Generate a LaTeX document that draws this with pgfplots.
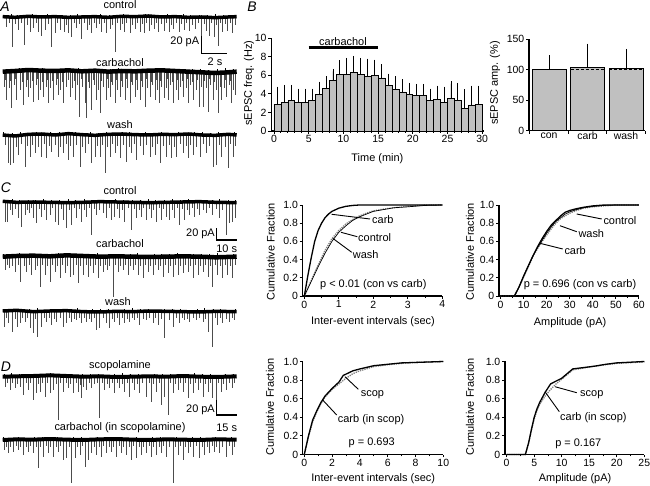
\documentclass[border=0pt]{standalone}
\usepackage{fontspec}
\setmainfont{Liberation Sans}
\usepackage{pgfplots}
\usepackage{pgfplotstable}
\pgfplotsset{compat=1.18}
\definecolor{barg}{RGB}{192,192,192}

\pgfplotstableread{
x y e
0.5 2.9 1.6
1.5 3.1 1.6
2.5 3.3 1.4
3.5 3.1 1.2
4.5 3.1 1.2
5.5 3.3 1.0
6.5 3.9 1.15
7.5 4.6 1.0
8.5 5.4 1.0
9.5 6.1 1.25
10.5 6.1 1.5
11.5 6.3 1.5
12.5 6.1 1.5
13.5 5.9 1.6
14.5 6.0 1.4
15.5 5.7 1.2
16.5 4.9 1.0
17.5 4.5 1.1
18.5 4.2 1.1
19.5 3.9 1.0
20.5 3.8 1.0
21.5 3.8 1.0
22.5 3.3 1.0
23.5 3.4 1.2
24.5 3.1 1.4
25.5 3.5 1.6
26.5 3.3 1.6
27.5 2.4 1.8
28.5 2.8 1.8
29.5 2.9 1.7
}\freqdata

\pgfplotstableread{
x y e
0 100 18.5
1 103 34.5
2 102 27
}\ampdata

\pgfplotsset{
 base/.style={scale only axis, anchor=south west, clip=false, axis lines=left,
   axis line style={-, line width=1.1bp}, tick align=outside,
   major tick length=3bp, minor tick length=2bp,
   tick style={line width=0.9bp, black},
   tick label style={font=\fontsize{10.5}{12}\selectfont, inner sep=1.5bp},
   label style={font=\fontsize{11}{12}\selectfont},
   /pgf/number format/assume math mode=true,
   xlabel style={anchor=center}, ylabel style={anchor=center}},
 trace/.style={scale only axis, hide axis, anchor=south west, clip=false,
   width=234bp, height=56.667bp, xmin=8, xmax=710, ymin=-150, ymax=20},
 spk/.style={ycomb, black!70, line width=0.55bp, mark=none},
 up/.style={ycomb, black, line width=0.6bp, mark=none},
 band/.style={black, line width=#1, line join=round, mark=none},
 carbl/.style={black, line width=1.3bp, mark=none},
 conl/.style={gray, densely dotted, line width=1.3bp, mark=none},
 washl/.style={black, line width=0.7bp, mark=none},
}

\begin{document}
\begin{tikzpicture}
\useasboundingbox (0,0) rectangle (650bp,486bp);

% ---------------- Panel A traces ----------------
\begin{axis}[trace, at={(2.7bp,418.67bp)}]
\addplot[spk] coordinates {(20,-28)(38,-88)(55,-38)(72,-83)(90,-43)(100,-33)(115,-43)(125,-56)(135,-38)(155,-88)(165,-48)(180,-38)(192,-43)(205,-48)(215,-58)(228,-33)(245,-66)(262,-38)(275,-46)(290,-33)(305,-43)(318,-48)(330,-36)(345,-103)(360,-38)(372,-43)(390,-48)(405,-36)(420,-43)(432,-48)(448,-40)(462,-36)(475,-43)(492,-40)(508,-43)(520,-36)(538,-43)(552,-38)(568,-40)(585,-36)(605,-60)(618,-40)(628,-56)(642,-58)(655,-86)(668,-43)(682,-40)(698,-48)};
\addplot[spk] coordinates {(28,-18)(46,-20)(63,-16)(82,-22)(108,-18)(145,-20)(172,-16)(198,-22)(222,-18)(237,-20)(253,-16)(268,-22)(282,-18)(297,-20)(312,-16)(338,-22)(352,-18)(366,-20)(380,-16)(398,-22)(412,-18)(426,-20)(440,-16)(455,-22)(468,-18)(483,-20)(500,-16)(514,-22)(530,-18)(545,-20)(560,-16)(576,-22)(594,-18)(612,-20)(635,-16)(648,-22)(662,-18)(675,-20)(690,-16)(705,-22)};
\addplot[up] coordinates {(14,7)(33,9)(51,6)(77,8)(96,10)(121,7)(142,9)(160,6)(187,8)(211,7)(233,10)(258,6)(279,8)(301,9)(327,7)(349,6)(371,10)(393,8)(417,7)(437,11)(459,6)(481,8)(503,10)(527,7)(549,9)(571,6)(597,8)(621,7)(645,9)(671,6)(694,8)};
\addplot[band=3.5bp] coordinates {(8,2)(45,0)(85,3)(125,1)(165,2)(205,0)(245,1)(285,2)(325,0)(365,3)(405,2)(445,4)(485,1)(525,2)(565,0)(605,1)(645,-1)(685,1)(710,2)};
\end{axis}

\begin{axis}[trace, at={(2.7bp,364.33bp)}]
\addplot[spk] coordinates {(20,-85)(35,-110)(50,-85)(70,-100)(85,-75)(100,-90)(115,-85)(130,-75)(145,-95)(160,-85)(175,-70)(190,-95)(210,-75)(225,-85)(238,-135)(255,-95)(260,-140)(275,-115)(290,-85)(300,-125)(318,-85)(330,-75)(345,-95)(360,-75)(375,-85)(390,-95)(405,-75)(420,-85)(435,-105)(450,-75)(465,-85)(478,-95)(492,-80)(505,-85)(520,-95)(535,-85)(550,-75)(565,-95)(580,-85)(598,-105)(610,-105)(625,-120)(640,-85)(655,-125)(665,-85)(680,-75)(695,-95)(705,-70)};
\addplot[spk] coordinates {(12,-45)(27,-50)(42,-40)(60,-55)(78,-45)(92,-50)(108,-40)(122,-55)(138,-45)(152,-50)(168,-40)(182,-55)(200,-45)(218,-50)(232,-40)(248,-45)(268,-50)(282,-40)(295,-55)(310,-45)(324,-50)(338,-40)(352,-55)(368,-45)(382,-50)(398,-40)(412,-55)(428,-45)(442,-50)(458,-40)(472,-55)(485,-45)(498,-50)(512,-40)(528,-55)(542,-45)(558,-50)(572,-40)(588,-55)(604,-45)(618,-50)(632,-40)(648,-55)(660,-45)(672,-50)(688,-40)(700,-55)};
\addplot[spk] coordinates {(16,-25)(31,-28)(46,-22)(66,-30)(82,-24)(96,-27)(112,-22)(127,-30)(142,-25)(156,-28)(171,-22)(186,-30)(205,-25)(222,-28)(243,-22)(264,-30)(279,-24)(305,-27)(321,-22)(334,-30)(348,-25)(364,-28)(379,-22)(394,-30)(409,-25)(424,-28)(439,-22)(454,-30)(469,-25)(482,-28)(502,-22)(516,-30)(532,-25)(546,-28)(562,-22)(576,-30)(592,-25)(614,-28)(628,-22)(644,-30)(676,-25)(692,-28)};
\addplot[up] coordinates {(18,9)(40,7)(58,10)(83,6)(104,8)(126,11)(148,7)(166,9)(192,6)(214,8)(236,10)(262,7)(284,9)(306,6)(331,8)(354,10)(376,7)(399,9)(421,6)(443,8)(466,10)(488,7)(511,9)(533,6)(556,8)(578,7)(601,9)(626,6)(651,8)(676,10)(699,7)};
\addplot[band=4.5bp] coordinates {(8,0)(45,2)(85,5)(125,3)(165,2)(205,4)(245,1)(285,3)(325,0)(365,2)(405,1)(445,3)(485,4)(525,2)(565,0)(605,-2)(645,-4)(685,-2)(710,0)};
\end{axis}

\begin{axis}[trace, at={(2.7bp,301bp)}]
\addplot[spk] coordinates {(25,-85)(32,-90)(40,-85)(55,-60)(75,-95)(90,-65)(105,-55)(125,-65)(140,-70)(155,-50)(175,-65)(190,-55)(205,-75)(220,-65)(240,-95)(255,-55)(275,-85)(285,-65)(300,-65)(315,-115)(330,-65)(345,-55)(360,-70)(380,-80)(395,-55)(410,-75)(430,-60)(450,-65)(465,-60)(480,-85)(500,-65)(515,-70)(530,-65)(550,-55)(565,-70)(580,-60)(600,-65)(618,-55)(640,-95)(650,-90)(665,-65)(685,-100)(700,-65)};
\addplot[spk] coordinates {(15,-30)(48,-35)(65,-28)(82,-32)(98,-30)(115,-35)(132,-28)(148,-32)(165,-30)(182,-35)(198,-28)(212,-32)(230,-30)(248,-35)(265,-28)(292,-32)(308,-30)(322,-35)(338,-28)(352,-32)(370,-30)(388,-35)(402,-28)(420,-32)(440,-30)(458,-35)(472,-28)(490,-32)(508,-30)(522,-35)(540,-28)(558,-32)(572,-30)(590,-35)(610,-28)(628,-32)(658,-30)(675,-35)(692,-28)(706,-32)};
\addplot[up] coordinates {(11,8)(37,6)(61,9)(86,7)(109,10)(133,6)(151,8)(178,9)(201,7)(226,10)(251,6)(271,8)(296,7)(318,9)(341,6)(366,8)(387,10)(413,7)(436,9)(461,6)(484,8)(507,7)(534,9)(556,6)(583,8)(606,10)(631,7)(656,9)(681,6)(703,8)};
\addplot[band=3.5bp] coordinates {(8,0)(45,-3)(85,2)(125,3)(165,0)(205,4)(245,1)(285,-1)(325,2)(365,3)(405,1)(445,0)(485,2)(525,1)(565,3)(605,0)(645,-1)(685,2)(710,0)};
\end{axis}

% ---------------- Panel C traces ----------------
\begin{axis}[trace, xmin=8, xmax=712, at={(2.7bp,233.67bp)}]
\addplot[spk] coordinates {(15,-58)(22,-58)(38,-38)(55,-48)(65,-73)(75,-38)(88,-33)(100,-48)(110,-63)(125,-43)(140,-53)(150,-38)(165,-58)(175,-68)(190,-53)(200,-78)(215,-68)(230,-48)(245,-58)(260,-43)(275,-98)(290,-38)(310,-33)(320,-48)(335,-53)(345,-43)(360,-48)(375,-58)(395,-83)(410,-48)(425,-43)(440,-53)(455,-48)(470,-58)(485,-53)(500,-43)(510,-53)(525,-48)(540,-68)(555,-53)(570,-38)(585,-43)(600,-38)(620,-33)(640,-38)(660,-48)(680,-98)(690,-63)(700,-58)(708,-48)};
\addplot[spk] coordinates {(30,-22)(47,-20)(82,-22)(94,-18)(118,-20)(132,-22)(158,-18)(183,-20)(208,-22)(222,-18)(238,-20)(252,-22)(268,-18)(282,-20)(300,-22)(328,-18)(352,-20)(368,-22)(385,-18)(403,-20)(418,-22)(432,-18)(448,-20)(462,-22)(478,-18)(492,-20)(518,-22)(532,-18)(548,-20)(562,-22)(578,-18)(592,-20)(610,-22)(630,-18)(650,-20)(670,-22)};
\addplot[up] coordinates {(13,7)(36,9)(59,6)(84,8)(106,7)(131,9)(154,6)(179,8)(204,10)(227,7)(253,9)(276,6)(298,8)(324,7)(347,9)(372,6)(397,8)(421,7)(446,9)(468,6)(494,8)(517,10)(541,7)(566,9)(589,6)(613,8)(638,7)(661,9)(686,6)(707,8)};
\addplot[band=3.5bp] coordinates {(8,3)(50,0)(100,1)(150,0)(200,-1)(250,0)(300,2)(350,1)(400,0)(450,-1)(500,0)(550,1)(600,2)(650,0)(712,-1)};
\end{axis}

\begin{axis}[trace, xmin=8, xmax=712, at={(2.7bp,179.33bp)}]
\addplot[spk] coordinates {(15,-40)(28,-35)(45,-45)(62,-75)(80,-45)(95,-55)(105,-40)(120,-90)(135,-55)(150,-75)(165,-45)(180,-65)(195,-50)(210,-60)(220,-55)(235,-80)(250,-55)(265,-60)(280,-50)(295,-65)(310,-45)(322,-40)(340,-120)(355,-45)(370,-40)(385,-55)(400,-40)(415,-55)(430,-65)(445,-45)(460,-55)(475,-40)(490,-60)(505,-50)(520,-60)(535,-55)(550,-50)(565,-45)(580,-65)(595,-55)(610,-45)(625,-60)(640,-90)(655,-55)(670,-65)(685,-55)(700,-65)};
\addplot[spk] coordinates {(22,-25)(38,-28)(55,-25)(72,-28)(88,-25)(112,-28)(128,-25)(142,-28)(158,-25)(172,-28)(188,-25)(202,-28)(228,-25)(242,-28)(258,-25)(272,-28)(288,-25)(302,-28)(316,-25)(330,-28)(348,-25)(362,-28)(378,-25)(392,-28)(408,-25)(422,-28)(438,-25)(452,-28)(468,-25)(482,-28)(498,-25)(512,-28)(528,-25)(542,-28)(558,-25)(572,-28)(588,-25)(602,-28)(618,-25)(632,-28)(648,-25)(662,-28)(678,-25)(692,-28)(708,-25)};
\addplot[up] coordinates {(10,9)(33,7)(57,10)(81,6)(103,8)(127,9)(149,7)(174,10)(198,6)(223,8)(246,9)(269,7)(293,10)(317,6)(343,8)(366,9)(391,7)(414,10)(437,6)(463,8)(486,9)(509,7)(533,10)(557,6)(581,8)(604,9)(629,7)(653,10)(677,6)(701,8)};
\addplot[band=4.5bp] coordinates {(8,0)(50,2)(100,3)(150,1)(200,4)(250,2)(300,0)(350,1)(400,0)(450,-1)(500,0)(550,1)(600,0)(650,-2)(712,0)};
\end{axis}

\begin{axis}[trace, xmin=8, xmax=712, at={(2.7bp,124.33bp)}]
\addplot[spk] coordinates {(12,-45)(25,-35)(38,-60)(52,-45)(62,-35)(75,-30)(90,-50)(100,-65)(112,-75)(125,-45)(140,-30)(155,-40)(170,-30)(190,-45)(200,-35)(215,-30)(230,-25)(245,-35)(260,-30)(275,-30)(290,-55)(300,-50)(320,-35)(330,-50)(345,-30)(360,-40)(375,-35)(390,-30)(405,-25)(420,-40)(440,-25)(460,-35)(475,-40)(495,-80)(510,-25)(520,-45)(540,-35)(555,-25)(570,-30)(590,-25)(610,-30)(625,-60)(640,-105)(655,-40)(670,-35)(690,-30)(705,-25)};
\addplot[spk] coordinates {(18,-20)(45,-22)(68,-18)(82,-20)(106,-22)(132,-18)(148,-20)(162,-22)(180,-18)(208,-20)(222,-22)(238,-18)(252,-20)(268,-22)(282,-18)(310,-20)(338,-22)(352,-18)(368,-20)(382,-22)(398,-18)(412,-20)(430,-22)(450,-18)(468,-20)(485,-22)(530,-18)(548,-20)(562,-22)(580,-18)(600,-20)(618,-22)(648,-18)(662,-20)(680,-22)(698,-18)};
\addplot[up] coordinates {(16,8)(41,6)(64,9)(88,7)(111,10)(136,6)(158,8)(183,9)(207,7)(231,10)(256,6)(279,8)(303,7)(327,9)(351,6)(374,8)(399,10)(422,7)(447,9)(471,6)(494,8)(518,7)(543,9)(567,6)(592,8)(616,10)(641,7)(664,9)(688,6)(709,8)};
\addplot[band=3.5bp] coordinates {(8,2)(50,4)(100,0)(150,2)(200,3)(250,0)(300,-1)(350,1)(400,0)(450,2)(500,1)(550,0)(600,-1)(650,1)(712,0)};
\end{axis}

% ---------------- Panel D traces ----------------
\begin{axis}[trace, xmin=8, xmax=712, at={(2.7bp,59.33bp)}]
\addplot[spk] coordinates {(15,-30)(30,-40)(45,-35)(60,-30)(70,-55)(85,-40)(100,-70)(108,-50)(120,-45)(135,-60)(150,-50)(160,-40)(175,-130)(190,-45)(205,-35)(220,-50)(235,-45)(245,-65)(260,-40)(275,-35)(300,-125)(315,-40)(330,-35)(345,-50)(360,-35)(375,-45)(390,-60)(405,-40)(420,-50)(440,-60)(455,-75)(470,-45)(485,-85)(495,-60)(505,-115)(520,-50)(535,-40)(550,-45)(565,-65)(580,-50)(595,-40)(610,-60)(625,-45)(640,-65)(650,-70)(665,-45)(680,-40)(700,-35)};
\addplot[spk] coordinates {(22,-20)(38,-18)(52,-22)(78,-20)(92,-18)(115,-22)(128,-20)(142,-18)(168,-22)(182,-20)(198,-18)(212,-22)(228,-20)(240,-25)(250,-30)(268,-18)(285,-22)(292,-20)(308,-18)(322,-22)(338,-20)(352,-18)(368,-22)(382,-20)(398,-18)(412,-22)(428,-20)(448,-18)(462,-22)(478,-20)(512,-18)(528,-22)(542,-20)(558,-18)(572,-22)(588,-20)(602,-18)(618,-22)(632,-20)(658,-18)(672,-22)(690,-20)(706,-18)};
\addplot[up] coordinates {(12,8)(35,10)(58,7)(82,9)(106,6)(129,8)(152,10)(176,7)(201,9)(224,6)(248,8)(272,7)(296,9)(319,6)(344,8)(367,10)(392,7)(416,9)(439,6)(463,8)(487,7)(511,9)(536,6)(559,8)(584,10)(607,7)(632,9)(656,6)(679,8)(703,9)};
\addplot[band=4bp] coordinates {(8,0)(50,1)(100,2)(150,4)(200,2)(250,0)(300,1)(350,-1)(400,0)(450,1)(500,0)(550,2)(600,0)(650,-1)(712,1)};
\end{axis}

\begin{axis}[trace, xmin=8, xmax=712, at={(2.7bp,-4bp)}]
\addplot[spk] coordinates {(12,-30)(25,-40)(40,-35)(55,-30)(70,-45)(85,-35)(100,-40)(115,-85)(130,-50)(145,-40)(160,-50)(175,-35)(190,-60)(200,-55)(215,-130)(225,-55)(240,-45)(255,-80)(265,-60)(275,-40)(290,-45)(305,-50)(320,-40)(335,-35)(350,-50)(365,-40)(380,-45)(395,-60)(410,-55)(425,-45)(440,-40)(455,-50)(470,-45)(485,-40)(500,-50)(520,-130)(535,-45)(550,-60)(565,-40)(580,-50)(600,-55)(615,-45)(630,-40)(645,-35)(660,-40)(680,-50)(700,-45)};
\addplot[spk] coordinates {(18,-20)(32,-22)(48,-18)(62,-20)(78,-22)(92,-18)(108,-20)(122,-22)(138,-18)(152,-20)(168,-22)(182,-18)(208,-20)(232,-22)(248,-18)(282,-20)(298,-22)(312,-18)(328,-20)(342,-22)(358,-18)(372,-20)(388,-22)(402,-18)(418,-20)(432,-22)(448,-18)(462,-20)(478,-22)(492,-18)(510,-20)(528,-22)(542,-18)(558,-20)(572,-22)(590,-18)(608,-20)(622,-22)(638,-18)(652,-20)(668,-22)(690,-18)(706,-20)};
\addplot[up] coordinates {(9,9)(31,7)(54,10)(79,6)(102,8)(126,9)(149,7)(173,10)(196,6)(221,8)(244,9)(268,7)(292,10)(316,6)(339,8)(363,9)(386,7)(411,10)(434,6)(458,8)(482,9)(506,7)(531,10)(554,6)(578,8)(602,9)(626,7)(649,10)(674,6)(697,8)};
\addplot[band=4bp] coordinates {(8,0)(50,2)(100,1)(150,3)(200,1)(250,0)(300,2)(350,3)(400,1)(450,0)(500,2)(550,1)(600,0)(650,2)(712,1)};
\end{axis}

% ---------------- Panel B: frequency ----------------
\begin{axis}[base, at={(271.2bp,355bp)}, width=212.4bp, height=93bp,
  xmin=-0.4, xmax=30.2, ymin=0, ymax=10,
  xtick={0,5,10,15,20,25,30}, minor x tick num=4, ytick={0,2,4,6,8,10},
  xlabel={Time (min)}, ylabel={sEPSC freq. (Hz)},
  xlabel style={at={(axis description cs:0.5,-0.294)}},
  ylabel style={at={(axis description cs:-0.1045,0.516)}}]
\addplot[ybar, bar width=1, bar shift=0pt, fill=barg, draw=black, line width=0.7bp,
  error bars/.cd, y dir=plus, y explicit,
  error bar style={line width=0.9bp, black},
  error mark options={line width=0.9bp, mark size=2.5bp, black}]
  table[x=x, y=y, y error=e] {\freqdata};
\addplot[black, line width=3.5bp, mark=none] coordinates {(5,9)(15,9)};
\end{axis}

% ---------------- Panel B: amplitude ----------------
\begin{axis}[base, at={(529bp,355.3bp)}, width=116.3bp, height=91.7bp,
  xmin=-0.52, xmax=2.5, ymin=0, ymax=150,
  xtick={-0.5,0.5,1.5,2.5}, xticklabels={,,,},
  extra x ticks={0,1,2}, extra x tick labels={con,carb,wash},
  extra x tick style={major tick length=0pt},
  ytick={0,50,100,150},
  ylabel={sEPSC amp. (\%)},
  ylabel style={at={(axis description cs:-0.292,0.52)}}]
\addplot[ybar, bar width=0.88, bar shift=0pt, fill=barg, draw=black, line width=0.9bp,
  error bars/.cd, y dir=plus, y explicit,
  error bar style={line width=0.9bp, black},
  error mark options={line width=0.9bp, mark size=3bp, black}]
  table[x=x, y=y, y error=e] {\ampdata};
\addplot[black, line width=1bp, dash pattern=on 3bp off 2bp, mark=none] coordinates {(-0.43,100)(0.43,100)};
\addplot[black, line width=1bp, dash pattern=on 3bp off 2bp, mark=none] coordinates {(0.57,100)(1.43,100)};
\addplot[black, line width=1bp, dash pattern=on 3bp off 2bp, mark=none] coordinates {(1.57,100)(2.43,100)};
\end{axis}

% ---------------- Panel C: cumulative intervals ----------------
\begin{axis}[base, at={(302.6bp,190bp)}, width=139.7bp, height=91bp,
  xmin=-0.05, xmax=4, ymin=0, ymax=1,
  xtick={0,1,2,3,4}, minor x tick num=1,
  ytick={0,0.2,0.4,0.6,0.8,1}, yticklabels={0,0.2,0.4,0.6,0.8,1.0},
  xlabel={Inter-event intervals (sec)}, ylabel={Cumulative Fraction},
  xlabel style={at={(axis description cs:0.504,-0.282)}},
  ylabel style={at={(axis description cs:-0.228,0.487)}}]
\addplot[conl] coordinates {(0,0)(0.2,0.17)(0.4,0.34)(0.6,0.5)(0.8,0.63)(1.0,0.72)(1.2,0.79)(1.4,0.84)(1.6,0.88)(1.8,0.91)(2.0,0.935)(2.3,0.955)(2.6,0.97)(3.0,0.985)(3.5,1)(4,1)};
\addplot[washl] coordinates {(0,0)(0.2,0.16)(0.4,0.32)(0.6,0.47)(0.8,0.6)(1.0,0.7)(1.2,0.77)(1.4,0.83)(1.6,0.87)(1.8,0.9)(2.0,0.93)(2.3,0.95)(2.6,0.97)(3.0,0.98)(3.5,0.995)(4,1)};
\addplot[carbl] coordinates {(0,0)(0.1,0.22)(0.2,0.42)(0.3,0.6)(0.4,0.72)(0.5,0.8)(0.6,0.86)(0.7,0.9)(0.8,0.93)(1.0,0.965)(1.2,0.985)(1.4,0.995)(1.6,1)(4,1)};
\end{axis}

% ---------------- Panel C: cumulative amplitude ----------------
\begin{axis}[base, at={(499bp,190bp)}, width=139.9bp, height=91bp,
  xmin=-0.7, xmax=60, ymin=0, ymax=1,
  xtick={0,10,20,30,40,50,60}, minor x tick num=1,
  ytick={0,0.2,0.4,0.6,0.8,1}, yticklabels={0,0.2,0.4,0.6,0.8,1.0},
  xlabel={Amplitude (pA)}, ylabel={Cumulative Fraction},
  xlabel style={at={(axis description cs:0.508,-0.293)}},
  ylabel style={at={(axis description cs:-0.207,0.487)}}]
\addplot[conl] coordinates {(0,0)(6,0)(8,0.1)(10,0.21)(12,0.32)(14,0.43)(16,0.52)(18,0.6)(20,0.67)(22,0.74)(24,0.8)(26,0.85)(28,0.88)(30,0.91)(33,0.94)(36,0.965)(40,0.98)(45,0.99)(50,1)(60,1)};
\addplot[washl] coordinates {(0,0)(6,0)(8,0.1)(10,0.22)(12,0.33)(14,0.44)(16,0.53)(18,0.61)(20,0.69)(22,0.76)(24,0.82)(26,0.86)(28,0.9)(30,0.925)(33,0.95)(36,0.97)(40,0.985)(45,0.995)(50,1)(60,1)};
\addplot[carbl] coordinates {(0,0)(6,0)(8,0.1)(10,0.22)(12,0.33)(14,0.44)(16,0.54)(18,0.63)(20,0.71)(22,0.78)(24,0.83)(26,0.88)(28,0.92)(30,0.94)(33,0.96)(36,0.975)(40,0.99)(45,1)(60,1)};
\end{axis}

% ---------------- Panel D: cumulative intervals ----------------
\begin{axis}[base, at={(302.9bp,31.5bp)}, width=140.4bp, height=93bp,
  xmin=-0.1, xmax=10, ymin=0, ymax=1,
  xtick={0,2,4,6,8,10}, minor x tick num=1,
  ytick={0,0.2,0.4,0.6,0.8,1}, yticklabels={0,0.2,0.4,0.6,0.8,1.0},
  xlabel={Inter-event intervals (sec)}, ylabel={Cumulative Fraction},
  xlabel style={at={(axis description cs:0.501,-0.256)}},
  ylabel style={at={(axis description cs:-0.234,0.51)}}]
\addplot[conl] coordinates {(0,0)(0.3,0.19)(0.6,0.35)(0.9,0.46)(1.2,0.55)(1.5,0.62)(2,0.7)(2.5,0.76)(3,0.82)(3.5,0.87)(4,0.9)(5,0.945)(6,0.965)(7,0.98)(8,0.99)(10,1)};
\addplot[carbl] coordinates {(0,0)(0.3,0.2)(0.6,0.37)(0.9,0.47)(1.2,0.56)(1.5,0.63)(2,0.71)(2.5,0.78)(2.8,0.85)(3.5,0.9)(4,0.92)(5,0.955)(6,0.97)(7,0.985)(8,0.99)(10,1)};
\end{axis}

% ---------------- Panel D: cumulative amplitude ----------------
\begin{axis}[base, at={(505bp,31.5bp)}, width=139.3bp, height=93bp,
  xmin=-0.3, xmax=25, ymin=0, ymax=1,
  xtick={0,5,10,15,20,25}, minor x tick num=1,
  ytick={0,0.2,0.4,0.6,0.8,1}, yticklabels={0,0.2,0.4,0.6,0.8,1.0},
  xlabel={Amplitude (pA)}, ylabel={Cumulative Fraction},
  xlabel style={at={(axis description cs:0.503,-0.256)}},
  ylabel style={at={(axis description cs:-0.251,0.51)}}]
\addplot[conl] coordinates {(0,0)(3.4,0)(4,0.12)(4.5,0.26)(5,0.38)(5.5,0.47)(6,0.54)(7,0.63)(8,0.7)(9,0.76)(10,0.81)(11,0.86)(12,0.91)(14,0.93)(16,0.95)(18,0.965)(20,0.98)(25,0.995)};
\addplot[carbl] coordinates {(0,0)(3.4,0)(4,0.13)(4.5,0.27)(5,0.4)(5.5,0.49)(6,0.56)(7,0.67)(8,0.76)(9,0.79)(10,0.82)(11,0.87)(12,0.92)(14,0.935)(16,0.95)(18,0.97)(20,0.985)(25,1)};
\end{axis}

% ---------------- Text and annotations ----------------
\tikzset{lab/.style={font=\fontsize{11}{12}\selectfont, inner sep=0pt},
         pl/.style={font=\fontsize{14}{15}\selectfont\itshape, inner sep=0pt},
         sb/.style={line width=1.3bp, black}}
\node[pl] at (5bp,479bp) {A};
\node[pl] at (252bp,479bp) {B};
\node[pl] at (6bp,298bp) {C};
\node[pl] at (6bp,119bp) {D};

\node[lab] at (120bp,481bp) {control};
\node[lab] at (120bp,423bp) {carbachol};
\node[lab] at (120bp,361bp) {wash};
\draw[sb] (201.7bp,450bp) -- (201.7bp,432.7bp) -- (227.3bp,432.7bp);
\node[lab, anchor=east] at (199.3bp,443.7bp) {20 pA};
\node[lab] at (215bp,424.3bp) {2 s};

\node[lab] at (343bp,444.3bp) {carbachol};

\node[lab] at (120bp,295bp) {control};
\node[lab] at (120bp,242bp) {carbachol};
\node[lab] at (118bp,184bp) {wash};
\draw[sb] (216.7bp,257.7bp) -- (216.7bp,246bp) -- (236.7bp,246bp);
\node[lab, anchor=east] at (215bp,252bp) {20 pA};
\node[lab] at (226.7bp,237.7bp) {10 s};

\node[lab] at (120bp,120bp) {scopolamine};
\node[lab] at (120bp,58.3bp) {carbachol (in scopolamine)};
\draw[sb] (216.7bp,86bp) -- (216.7bp,71bp) -- (236.7bp,71bp);
\node[lab, anchor=east] at (215bp,76bp) {20 pA};
\node[lab] at (226.7bp,58.3bp) {15 s};

% C left annotations
\draw[line width=0.9bp] (331.7bp,271.7bp) -- (370bp,267bp);
\node[lab, anchor=west] at (372bp,266bp) {carb};
\draw[line width=0.9bp] (341bp,253.7bp) -- (357.3bp,249.3bp);
\node[lab, anchor=west] at (358bp,248.3bp) {control};
\draw[line width=0.9bp] (332.7bp,247.7bp) -- (351.7bp,233.7bp);
\node[lab, anchor=west] at (352.7bp,231bp) {wash};
\node[lab] at (373.3bp,201bp) {p < 0.01 (con vs carb)};

% C right annotations
\draw[line width=0.9bp] (576.7bp,272bp) -- (601.7bp,267bp);
\node[lab, anchor=west] at (603.3bp,265.3bp) {control};
\draw[line width=0.9bp] (560bp,260.3bp) -- (576.7bp,254.3bp);
\node[lab, anchor=west] at (578.3bp,252bp) {wash};
\draw[line width=0.9bp] (540bp,242.7bp) -- (562.7bp,237bp);
\node[lab, anchor=west] at (564.3bp,235.3bp) {carb};
\node[lab] at (580bp,201bp) {p = 0.696 (con vs carb)};

% D left annotations
\draw[line width=0.9bp] (345bp,109.3bp) -- (358.3bp,96.7bp);
\node[lab, anchor=west] at (360.7bp,91.7bp) {scop};
\draw[line width=0.9bp] (322.7bp,86bp) -- (336.7bp,71bp);
\node[lab, anchor=west] at (337.7bp,66.7bp) {carb (in scop)};
\node[lab] at (371.7bp,43.3bp) {p = 0.693};

% D right annotations
\draw[line width=0.9bp] (555bp,99.3bp) -- (576.7bp,93.3bp);
\node[lab, anchor=west] at (580bp,91.7bp) {scop};
\draw[line width=0.9bp] (545bp,94.3bp) -- (559.3bp,74.3bp);
\node[lab, anchor=west] at (560bp,68.7bp) {carb (in scop)};
\node[lab] at (578.3bp,41.7bp) {p = 0.167};
\end{tikzpicture}
\end{document}
